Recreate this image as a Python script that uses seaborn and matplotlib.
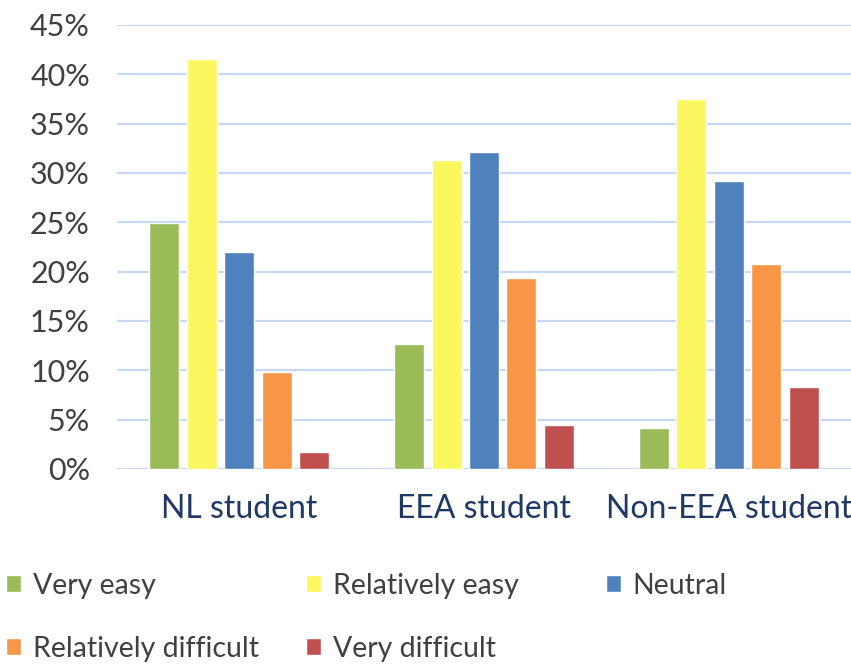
import matplotlib
matplotlib.use('Agg')
import matplotlib.pyplot as plt
import pandas as pd
import seaborn as sns
from matplotlib.ticker import PercentFormatter

# Data (percent)
groups = ['NL student', 'EEA student', 'Non-EEA student']
answers = ['Very easy', 'Relatively easy', 'Neutral', 'Relatively difficult', 'Very difficult']
very_easy = [24.9, 12.7, 4.2]
relatively_easy = [41.6, 31.3, 37.5]
neutral = [22.0, 32.1, 29.2]
relatively_difficult = [9.8, 19.4, 20.8]
very_difficult = [1.7, 4.5, 8.3]
colors = ['#9BBB59', '#FAF75F', '#4F81BD', '#F79646', '#C0504D']

series = [very_easy, relatively_easy, neutral, relatively_difficult, very_difficult]
df = pd.DataFrame({
  'group': [g for s in series for g in groups],
  'answer': [a for a, s in zip(answers, series) for _ in s],
  'value': [v for s in series for v in s],
})

sns.set_style('white')
plt.rcParams['font.family'] = ['Lato', 'DejaVu Sans']

fig = plt.figure(figsize=(8.51, 6.64), dpi=100)
ax = fig.add_axes([117 / 851, 1 - 469 / 664, 1 - 117 / 851, (469 - 25) / 664])

sns.barplot(data=df, x='group', y='value', hue='answer', hue_order=answers,
            palette=colors, width=0.766, gap=0.2, saturation=1,
            legend=True, ax=ax)

ax.set_ylim(0, 45)
ax.set_xlim(-0.5, 2.5)
ax.set_yticks(range(0, 46, 5))
ax.yaxis.set_major_formatter(PercentFormatter(decimals=0))
ax.yaxis.grid(True, color='#C6D9F7', linewidth=1.6)
ax.set_axisbelow(True)
for s in ax.spines.values():
  s.set_visible(False)
ax.set_xlabel('')
ax.set_ylabel('')
ax.tick_params(axis='y', length=0, pad=19.5, labelsize=22, labelcolor='#404040')
ax.tick_params(axis='x', length=0, pad=18, labelsize=23, labelcolor='#1F3864')

# Legend: three columns placed like the original
handles, labels = ax.get_legend_handles_labels()
ax.get_legend().remove()
cols = [([0, 3], 0.0), ([1, 4], 300 / 851), ([2], 600 / 851)]
for idx, x0 in cols:
  fig.legend([handles[i] for i in idx], [labels[i] for i in idx],
             loc='upper left', bbox_to_anchor=(x0, 1 - 567 / 664),
             frameon=False, fontsize=20.5, handlelength=0.55,
             handleheight=0.55, handletextpad=0.4, labelspacing=1.3,
             borderaxespad=0, borderpad=0.2, labelcolor='#404040')

fig.savefig('out.png', dpi=100)
